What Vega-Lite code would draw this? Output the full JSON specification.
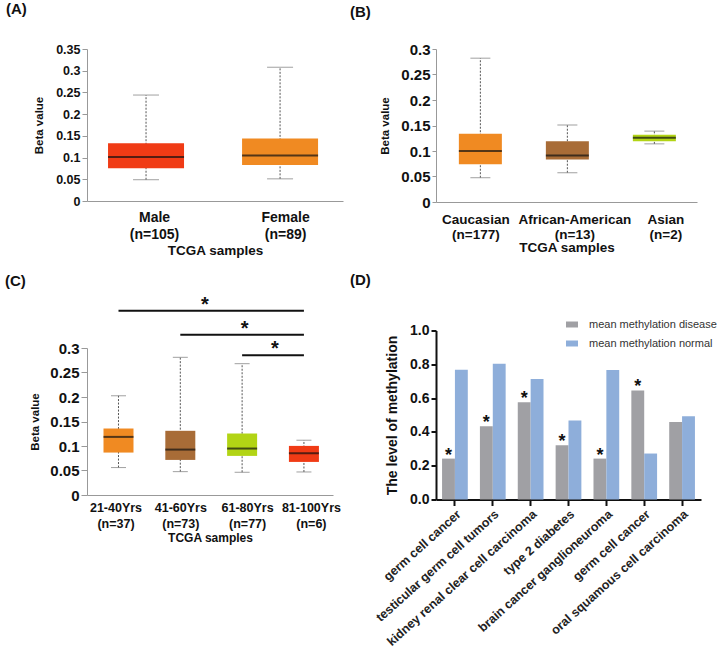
{
  "$schema": "https://vega.github.io/schema/vega-lite/v6.json",
  "padding": {"left": 5, "top": 1, "right": 0, "bottom": 0},
  "config": {
    "font": "Liberation Sans",
    "view": {"stroke": null},
    "axis": {"grid": false, "labelFontWeight": "bold", "labelColor": "#111", "titleFontWeight": "bold", "titleColor": "#111", "labelOverlap": false, "labelLimit": 400},
    "title": {"fontSize": 15, "fontWeight": "bold", "color": "#111", "anchor": "start", "frame": "group"}
  },
  "datasets": {
    "a": [
      {"group": "Male\n(n=105)", "low": 0.049, "q1": 0.0755, "med": 0.1015, "q3": 0.133, "high": 0.244},
      {"group": "Female\n(n=89)", "low": 0.051, "q1": 0.083, "med": 0.105, "q3": 0.144, "high": 0.308}
    ],
    "b": [
      {"group": "Caucasian\n(n=177)", "low": 0.0476, "q1": 0.074, "med": 0.0998, "q3": 0.134, "high": 0.282},
      {"group": "African-American\n(n=13)", "low": 0.0574, "q1": 0.0835, "med": 0.0913, "q3": 0.119, "high": 0.151},
      {"group": "Asian\n(n=2)", "low": 0.114, "q1": 0.119, "med": 0.126, "q3": 0.132, "high": 0.139}
    ],
    "c": [
      {"group": "21-40Yrs\n(n=37)", "low": 0.056, "q1": 0.0866, "med": 0.1186, "q3": 0.1357, "high": 0.2025},
      {"group": "41-60Yrs\n(n=73)", "low": 0.0477, "q1": 0.0716, "med": 0.0927, "q3": 0.131, "high": 0.281},
      {"group": "61-80Yrs\n(n=77)", "low": 0.0464, "q1": 0.0798, "med": 0.0948, "q3": 0.1255, "high": 0.268},
      {"group": "81-100Yrs\n(n=6)", "low": 0.047, "q1": 0.0675, "med": 0.0852, "q3": 0.1002, "high": 0.1118}
    ],
    "csig": [
      {"from": "21-40Yrs\n(n=37)", "to": "81-100Yrs\n(n=6)", "level": 0.376, "star": "*", "pair": 1},
      {"from": "41-60Yrs\n(n=73)", "to": "81-100Yrs\n(n=6)", "level": 0.327, "star": "*", "pair": 2},
      {"from": "61-80Yrs\n(n=77)", "to": "81-100Yrs\n(n=6)", "level": 0.285, "star": "*", "pair": 3}
    ],
    "d": [
      {"disease": "germ cell cancer", "series": "mean methylation disease", "value": 0.242, "sig": "*"},
      {"disease": "germ cell cancer", "series": "mean methylation normal", "value": 0.768, "sig": ""},
      {"disease": "testicular germ cell tumors", "series": "mean methylation disease", "value": 0.433, "sig": "*"},
      {"disease": "testicular germ cell tumors", "series": "mean methylation normal", "value": 0.803, "sig": ""},
      {"disease": "kidney renal clear cell carcinoma", "series": "mean methylation disease", "value": 0.575, "sig": "*"},
      {"disease": "kidney renal clear cell carcinoma", "series": "mean methylation normal", "value": 0.713, "sig": ""},
      {"disease": "type 2 diabetes", "series": "mean methylation disease", "value": 0.321, "sig": "*"},
      {"disease": "type 2 diabetes", "series": "mean methylation normal", "value": 0.467, "sig": ""},
      {"disease": "brain cancer ganglioneuroma", "series": "mean methylation disease", "value": 0.242, "sig": "*"},
      {"disease": "brain cancer ganglioneuroma", "series": "mean methylation normal", "value": 0.766, "sig": ""},
      {"disease": "germ cell cancer ", "series": "mean methylation disease", "value": 0.645, "sig": "*"},
      {"disease": "germ cell cancer ", "series": "mean methylation normal", "value": 0.272, "sig": ""},
      {"disease": "oral squamous cell carcinoma", "series": "mean methylation disease", "value": 0.459, "sig": ""},
      {"disease": "oral squamous cell carcinoma", "series": "mean methylation normal", "value": 0.492, "sig": ""}
    ]
  },
  "spacing": 7,
  "resolve": {"scale": {"color": "independent"}, "legend": {"color": "independent"}},
  "hconcat": [
    {
      "spacing": 16,
      "resolve": {"scale": {"color": "independent"}, "legend": {"color": "independent"}},
      "vconcat": [
        {
          "title": {"text": "(A)", "dx": -81, "offset": 26.5},
          "width": 256,
          "height": 152,
          "data": {"name": "a"},
          "encoding": {
            "x": {"field": "group", "type": "nominal", "sort": null,
              "scale": {"type": "point", "padding": 0.455, "align": 0.484},
              "axis": {"title": "TCGA samples", "titleFontSize": 13.5, "titlePadding": 2,
                "ticks": false, "labelAngle": 0, "labelExpr": "split(datum.label, '\\n')", "labelFontSize": 14, "labelLineHeight": 17.5, "labelPadding": 9, "domainColor": "#999",
                "labelOffset": {"condition": {"test": "indexof(datum.label, 'Male') == 0", "value": 8}, "value": 5}}}
          },
          "layer": [
            {"mark": {"type": "rule", "strokeDash": [2, 1.5], "color": "#555", "strokeWidth": 1},
             "encoding": {
               "y": {"field": "low", "type": "quantitative", "scale": {"domain": [0, 0.35], "nice": false},
                 "axis": {"title": "Beta value", "titleFontSize": 11.5, "titlePadding": 11, "values": [0, 0.05, 0.1, 0.15, 0.2, 0.25, 0.3, 0.35], "format": ".2~f", "labelFontSize": 12.5, "labelPadding": 2, "tickSize": 5, "tickColor": "#999", "domainColor": "#999"}},
               "y2": {"field": "high"}}},
            {"mark": {"type": "tick", "size": 26, "thickness": 1, "color": "#777"},
             "encoding": {"y": {"field": "high", "type": "quantitative",
               "axis": {"title": "Beta value", "titleFontSize": 11.5, "titlePadding": 11, "values": [0, 0.05, 0.1, 0.15, 0.2, 0.25, 0.3, 0.35], "format": ".2~f", "labelFontSize": 12.5, "labelPadding": 2, "tickSize": 5, "tickColor": "#999", "domainColor": "#999"}}}},
            {"mark": {"type": "tick", "size": 26, "thickness": 1, "color": "#777"},
             "encoding": {"y": {"field": "low", "type": "quantitative",
               "axis": {"title": "Beta value", "titleFontSize": 11.5, "titlePadding": 11, "values": [0, 0.05, 0.1, 0.15, 0.2, 0.25, 0.3, 0.35], "format": ".2~f", "labelFontSize": 12.5, "labelPadding": 2, "tickSize": 5, "tickColor": "#999", "domainColor": "#999"}}}},
            {"mark": {"type": "bar", "width": 76},
             "encoding": {"y": {"field": "q1", "type": "quantitative",
               "axis": {"title": "Beta value", "titleFontSize": 11.5, "titlePadding": 11, "values": [0, 0.05, 0.1, 0.15, 0.2, 0.25, 0.3, 0.35], "format": ".2~f", "labelFontSize": 12.5, "labelPadding": 2, "tickSize": 5, "tickColor": "#999", "domainColor": "#999"}},
               "y2": {"field": "q3"},
               "color": {"field": "group", "type": "nominal", "sort": null, "scale": {"range": ["#F03B15", "#F08A22"]}, "legend": null}}},
            {"mark": {"type": "tick", "size": 76, "thickness": 2, "color": "#111"},
             "encoding": {"y": {"field": "med", "type": "quantitative",
               "axis": {"title": "Beta value", "titleFontSize": 11.5, "titlePadding": 11, "values": [0, 0.05, 0.1, 0.15, 0.2, 0.25, 0.3, 0.35], "format": ".2~f", "labelFontSize": 12.5, "labelPadding": 2, "tickSize": 5, "tickColor": "#999", "domainColor": "#999"}}}}
          ]
        },
        {
          "title": {"text": "(C)", "dx": -82, "offset": 6},
          "width": 246,
          "height": 147,
          "encoding": {
            "x": {"field": "group", "type": "nominal", "sort": null,
              "scale": {"type": "point", "padding": 0.49, "align": 0.52},
              "axis": {"title": "TCGA samples", "titleFontSize": 12, "titlePadding": 3,
                "ticks": false, "labelAngle": 0, "labelExpr": "split(datum.label, '\\n')", "labelFontSize": 12.5, "labelLineHeight": 16, "labelPadding": 6, "domainColor": "#999",
                "labelOffset": {"condition": [{"test": "indexof(datum.label, '21-40') == 0", "value": -3}, {"test": "indexof(datum.label, '61-80') == 0", "value": 5}, {"test": "indexof(datum.label, '81-100') == 0", "value": 7}], "value": 0}}}
          },
          "layer": [
            {"data": {"name": "c"},
             "mark": {"type": "rule", "strokeDash": [2, 1.5], "color": "#555", "strokeWidth": 1},
             "encoding": {
               "y": {"field": "low", "type": "quantitative", "scale": {"domain": [0, 0.3], "nice": false},
                 "axis": {"title": "Beta value", "titleFontSize": 11.5, "titlePadding": 9, "values": [0, 0.05, 0.1, 0.15, 0.2, 0.25, 0.3], "format": ".2~f", "labelFontSize": 15, "labelPadding": 2, "tickSize": 6, "tickColor": "#999", "domainColor": "#999"}},
               "y2": {"field": "high"}}},
            {"data": {"name": "c"}, "mark": {"type": "tick", "size": 15, "thickness": 1, "color": "#777"},
             "encoding": {"y": {"field": "high", "type": "quantitative",
               "axis": {"title": "Beta value", "titleFontSize": 11.5, "titlePadding": 9, "values": [0, 0.05, 0.1, 0.15, 0.2, 0.25, 0.3], "format": ".2~f", "labelFontSize": 15, "labelPadding": 2, "tickSize": 6, "tickColor": "#999", "domainColor": "#999"}}}},
            {"data": {"name": "c"}, "mark": {"type": "tick", "size": 15, "thickness": 1, "color": "#777"},
             "encoding": {"y": {"field": "low", "type": "quantitative",
               "axis": {"title": "Beta value", "titleFontSize": 11.5, "titlePadding": 9, "values": [0, 0.05, 0.1, 0.15, 0.2, 0.25, 0.3], "format": ".2~f", "labelFontSize": 15, "labelPadding": 2, "tickSize": 6, "tickColor": "#999", "domainColor": "#999"}}}},
            {"data": {"name": "c"}, "mark": {"type": "bar", "width": 30},
             "encoding": {"y": {"field": "q1", "type": "quantitative",
               "axis": {"title": "Beta value", "titleFontSize": 11.5, "titlePadding": 9, "values": [0, 0.05, 0.1, 0.15, 0.2, 0.25, 0.3], "format": ".2~f", "labelFontSize": 15, "labelPadding": 2, "tickSize": 6, "tickColor": "#999", "domainColor": "#999"}},
               "y2": {"field": "q3"},
               "color": {"field": "group", "type": "nominal", "sort": null, "scale": {"range": ["#F08A22", "#A86C37", "#B2D415", "#F03B15"]}, "legend": null}}},
            {"data": {"name": "c"}, "mark": {"type": "tick", "size": 30, "thickness": 2, "color": "#111"},
             "encoding": {"y": {"field": "med", "type": "quantitative",
               "axis": {"title": "Beta value", "titleFontSize": 11.5, "titlePadding": 9, "values": [0, 0.05, 0.1, 0.15, 0.2, 0.25, 0.3], "format": ".2~f", "labelFontSize": 15, "labelPadding": 2, "tickSize": 6, "tickColor": "#999", "domainColor": "#999"}}}},
            {"data": {"name": "csig"}, "mark": {"type": "rule", "strokeWidth": 2, "color": "#111"},
             "encoding": {"x": {"field": "from", "type": "nominal"}, "x2": {"field": "to"},
               "y": {"field": "level", "type": "quantitative",
                 "axis": {"title": "Beta value", "titleFontSize": 11.5, "titlePadding": 9, "values": [0, 0.05, 0.1, 0.15, 0.2, 0.25, 0.3], "format": ".2~f", "labelFontSize": 15, "labelPadding": 2, "tickSize": 6, "tickColor": "#999", "domainColor": "#999"}}}},
            {"data": {"name": "csig"}, "transform": [{"filter": "datum.pair == 1"}],
             "mark": {"type": "text", "fontSize": 20, "fontWeight": "bold", "baseline": "alphabetic", "dx": 24.5, "dy": 0, "color": "#111"},
             "encoding": {"x": {"datum": "41-60Yrs\n(n=73)"},
               "y": {"field": "level", "type": "quantitative",
                 "axis": {"title": "Beta value", "titleFontSize": 11.5, "titlePadding": 9, "values": [0, 0.05, 0.1, 0.15, 0.2, 0.25, 0.3], "format": ".2~f", "labelFontSize": 15, "labelPadding": 2, "tickSize": 6, "tickColor": "#999", "domainColor": "#999"}},
               "text": {"field": "star"}}},
            {"data": {"name": "csig"}, "transform": [{"filter": "datum.pair == 2"}],
             "mark": {"type": "text", "fontSize": 20, "fontWeight": "bold", "baseline": "alphabetic", "dx": 2.5, "dy": 0, "color": "#111"},
             "encoding": {"x": {"datum": "61-80Yrs\n(n=77)"},
               "y": {"field": "level", "type": "quantitative",
                 "axis": {"title": "Beta value", "titleFontSize": 11.5, "titlePadding": 9, "values": [0, 0.05, 0.1, 0.15, 0.2, 0.25, 0.3], "format": ".2~f", "labelFontSize": 15, "labelPadding": 2, "tickSize": 6, "tickColor": "#999", "domainColor": "#999"}},
               "text": {"field": "star"}}},
            {"data": {"name": "csig"}, "transform": [{"filter": "datum.pair == 3"}],
             "mark": {"type": "text", "fontSize": 20, "fontWeight": "bold", "baseline": "alphabetic", "dx": -29, "dy": 0, "color": "#111"},
             "encoding": {"x": {"field": "to", "type": "nominal"},
               "y": {"field": "level", "type": "quantitative",
                 "axis": {"title": "Beta value", "titleFontSize": 11.5, "titlePadding": 9, "values": [0, 0.05, 0.1, 0.15, 0.2, 0.25, 0.3], "format": ".2~f", "labelFontSize": 15, "labelPadding": 2, "tickSize": 6, "tickColor": "#999", "domainColor": "#999"}},
               "text": {"field": "star"}}}
          ]
        }
      ]
    },
    {
      "spacing": 18.5,
      "resolve": {"scale": {"color": "independent"}, "legend": {"color": "independent"}},
      "vconcat": [
        {
          "title": {"text": "(B)", "dx": -86, "offset": 22.5},
          "width": 261,
          "height": 153,
          "data": {"name": "b"},
          "encoding": {
            "x": {"field": "group", "type": "nominal", "sort": null,
              "scale": {"type": "point", "padding": 0.5, "align": 0.51},
              "axis": {"title": "TCGA samples", "titleFontSize": 13.5, "titlePadding": 0,
                "ticks": false, "labelAngle": 0, "labelExpr": "split(datum.label, '\\n')", "labelFontSize": 13.5, "labelLineHeight": 15, "labelPadding": 10, "domainColor": "#999",
                "labelOffset": {"condition": [{"test": "indexof(datum.label, 'Caucasian') == 0", "value": -5}, {"test": "indexof(datum.label, 'Asian') == 0", "value": 11}], "value": 7}}}
          },
          "layer": [
            {"mark": {"type": "rule", "strokeDash": [2, 1.5], "color": "#555", "strokeWidth": 1},
             "encoding": {
               "y": {"field": "low", "type": "quantitative", "scale": {"domain": [0, 0.3], "nice": false},
                 "axis": {"title": "Beta value", "titleFontSize": 11.5, "titlePadding": 10, "values": [0, 0.05, 0.1, 0.15, 0.2, 0.25, 0.3], "format": ".2~f", "labelFontSize": 15, "labelPadding": 2, "tickSize": 4, "tickColor": "#999", "domainColor": "#999"}},
               "y2": {"field": "high"}}},
            {"mark": {"type": "tick", "size": 20, "thickness": 1, "color": "#777"},
             "encoding": {"y": {"field": "high", "type": "quantitative",
               "axis": {"title": "Beta value", "titleFontSize": 11.5, "titlePadding": 10, "values": [0, 0.05, 0.1, 0.15, 0.2, 0.25, 0.3], "format": ".2~f", "labelFontSize": 15, "labelPadding": 2, "tickSize": 4, "tickColor": "#999", "domainColor": "#999"}}}},
            {"mark": {"type": "tick", "size": 20, "thickness": 1, "color": "#777"},
             "encoding": {"y": {"field": "low", "type": "quantitative",
               "axis": {"title": "Beta value", "titleFontSize": 11.5, "titlePadding": 10, "values": [0, 0.05, 0.1, 0.15, 0.2, 0.25, 0.3], "format": ".2~f", "labelFontSize": 15, "labelPadding": 2, "tickSize": 4, "tickColor": "#999", "domainColor": "#999"}}}},
            {"mark": {"type": "bar", "width": 43},
             "encoding": {"y": {"field": "q1", "type": "quantitative",
               "axis": {"title": "Beta value", "titleFontSize": 11.5, "titlePadding": 10, "values": [0, 0.05, 0.1, 0.15, 0.2, 0.25, 0.3], "format": ".2~f", "labelFontSize": 15, "labelPadding": 2, "tickSize": 4, "tickColor": "#999", "domainColor": "#999"}},
               "y2": {"field": "q3"},
               "color": {"field": "group", "type": "nominal", "sort": null, "scale": {"range": ["#F08A22", "#A86C37", "#B2D415"]}, "legend": null}}},
            {"mark": {"type": "tick", "size": 43, "thickness": 2, "color": "#111"},
             "encoding": {"y": {"field": "med", "type": "quantitative",
               "axis": {"title": "Beta value", "titleFontSize": 11.5, "titlePadding": 10, "values": [0, 0.05, 0.1, 0.15, 0.2, 0.25, 0.3], "format": ".2~f", "labelFontSize": 15, "labelPadding": 2, "tickSize": 4, "tickColor": "#999", "domainColor": "#999"}}}}
          ]
        },
        {
          "title": {"text": "(D)", "dx": -86, "offset": 31},
          "width": 265,
          "height": 169,
          "data": {"name": "d"},
          "encoding": {
            "x": {"field": "disease", "type": "nominal", "sort": null,
              "scale": {"paddingInner": 0.32, "paddingOuter": 0.16},
              "axis": {"title": null, "labelAngle": -42, "labelExpr": "trim(datum.label)", "labelFontSize": 12.5, "labelColor": "#222", "labelPadding": 2,
                "domainColor": "#111", "domainWidth": 2, "tickColor": "#111", "tickWidth": 2, "tickSize": 6}},
            "xOffset": {"field": "series", "type": "nominal"}
          },
          "layer": [
            {"mark": {"type": "bar"},
             "encoding": {
               "y": {"field": "value", "type": "quantitative", "scale": {"domain": [0, 1], "nice": false},
                 "axis": {"title": "The level of methylation", "titleFontSize": 14, "titlePadding": 10, "values": [0, 0.2, 0.4, 0.6, 0.8, 1], "format": ".1f", "labelFontSize": 14, "labelPadding": 2, "tickSize": 5, "tickWidth": 2, "tickColor": "#111", "domainColor": "#111", "domainWidth": 2}},
               "color": {"field": "series", "type": "nominal", "scale": {"range": ["#A0A0A4", "#8EAEDA"]},
                 "legend": {"orient": "none", "legendX": 130, "legendY": -12, "title": null, "symbolType": "M-1,-0.5H1V0.5H-1Z", "symbolSize": 144, "symbolStrokeWidth": 0,
                   "labelFontSize": 11, "labelColor": "#333", "labelFontWeight": "normal", "rowPadding": 8, "labelOffset": 11}}}},
            {"transform": [{"filter": "datum.sig == '*'"}],
             "mark": {"type": "text", "fontSize": 18, "fontWeight": "bold", "baseline": "alphabetic", "dy": 2, "color": "#111"},
             "encoding": {
               "y": {"field": "value", "type": "quantitative",
                 "axis": {"title": "The level of methylation", "titleFontSize": 14, "titlePadding": 10, "values": [0, 0.2, 0.4, 0.6, 0.8, 1], "format": ".1f", "labelFontSize": 14, "labelPadding": 2, "tickSize": 5, "tickWidth": 2, "tickColor": "#111", "domainColor": "#111", "domainWidth": 2}},
               "text": {"field": "sig"}}}
          ]
        }
      ]
    }
  ]
}
